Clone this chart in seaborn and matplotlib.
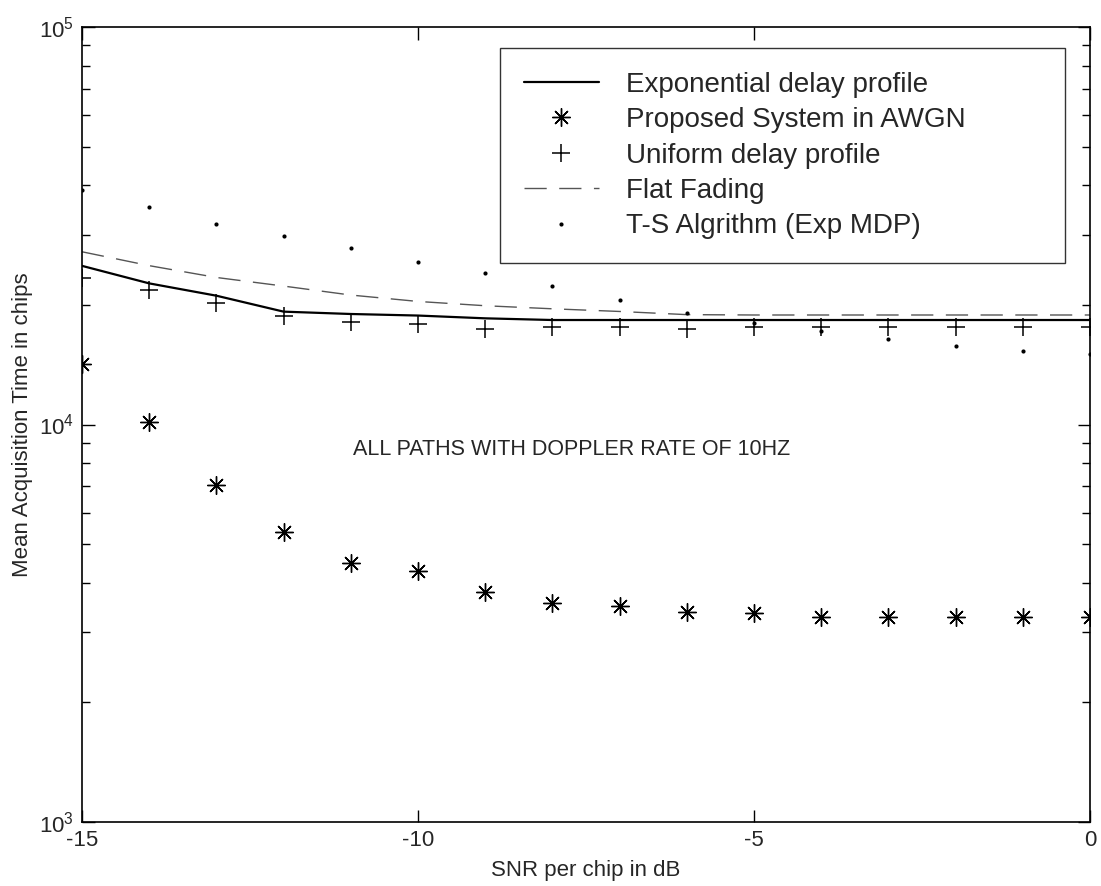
import numpy as np
import pandas as pd
import seaborn as sns
import matplotlib
matplotlib.use("Agg")
import matplotlib.pyplot as plt
from matplotlib.ticker import LogLocator, NullFormatter

# values (mean acquisition time in chips)
snr_db = [-15, -14, -13, -12, -11, -10, -9, -8, -7, -6, -5, -4, -3, -2, -1, 0]
exp_profile = [25070, 22650, 21090, 19230, 18970, 18800, 18500, 18320, 18320, 18320,
               18320, 18320, 18320, 18320, 18320, 18320]
awgn = [14170, 10160, 7050, 5355, 4475, 4290, 3795, 3563, 3495, 3380,
        3350, 3275, 3280, 3275, 3275, 3275]
uniform = [23330, 21790, 20170, 18780, 18080, 17900, 17380, 17560, 17630, 17440,
           17630, 17630, 17630, 17630, 17630, 17630]
flat_fading = [27200, 25100, 23440, 22300, 21170, 20400, 19900, 19550, 19250, 18900,
               18860, 18860, 18860, 18860, 18860, 18860]
ts_exp = [38900, 35300, 31900, 29850, 27850, 25590, 23990, 22300, 20610, 19040,
          18040, 17220, 16380, 15790, 15340, 15040]

labels = ["Exponential delay profile", "Proposed System in AWGN", "Uniform delay profile",
          "Flat Fading", "T-S Algrithm (Exp MDP)"]
note = "ALL PATHS WITH DOPPLER RATE OF 10HZ"

sns.set_style("white")
plt.rcParams['font.family'] = ['Liberation Sans', 'DejaVu Sans']
plt.rcParams['mathtext.fontset'] = 'custom'
plt.rcParams['mathtext.rm'] = 'Liberation Sans'
plt.rcParams['axes.unicode_minus'] = False

fig = plt.figure(figsize=(11.01, 8.86), dpi=100)
ax = fig.add_axes([0.0745, 0.0722, 0.9155, 0.8973])

sns.lineplot(x=snr_db, y=exp_profile, ax=ax, color='black', lw=1.6, label=labels[0])
sns.lineplot(x=snr_db, y=awgn, ax=ax, color='black', linestyle='', marker=(8, 2, 0),
             markersize=13, markeredgewidth=1.0, markeredgecolor='black', label=labels[1])
sns.lineplot(x=snr_db, y=uniform, ax=ax, color='black', linestyle='', marker='+',
             markersize=13, markeredgewidth=1.1, markeredgecolor='black', label=labels[2])
sns.lineplot(x=snr_db, y=flat_fading, ax=ax, color='#555555', lw=1.0, dashes=(16, 9),
             label=labels[3])
sns.lineplot(x=snr_db, y=ts_exp, ax=ax, color='black', linestyle='', marker='o',
             markersize=3, markeredgewidth=0, label=labels[4])

ax.set_yscale('log')
ax.set_xlim(-15, 0)
ax.set_ylim(1e3, 1e5)
ax.set_xticks([-15, -10, -5, 0])
ax.yaxis.set_minor_locator(LogLocator(base=10, subs=np.arange(2, 10)))
ax.yaxis.set_minor_formatter(NullFormatter())
ax.tick_params(which='both', direction='in', top=True, right=True, bottom=True, left=True,
               labelsize=16, color='black', width=1.0)
ax.tick_params(which='major', length=9, pad=6)
ax.tick_params(which='minor', length=6)
for s in ax.spines.values():
    s.set_color('black')
    s.set_linewidth(1.2)

ax.set_xlabel("SNR per chip in dB", fontsize=16, labelpad=6)
ax.set_ylabel("Mean Acquisition Time in chips", fontsize=16, labelpad=4)
ax.text(-10.97, 8630, note, fontsize=15.5, va='center', ha='left')

leg = ax.legend(loc='upper left', bbox_to_anchor=(0.4147, 0.7006, 0.5605, 0.2730),
                mode='expand', fontsize=20, frameon=True, fancybox=False,
                edgecolor='black', handlelength=2.7, handletextpad=1.0,
                labelspacing=0.34, borderpad=0.85, borderaxespad=0)
leg.get_frame().set_linewidth(1.0)

fig.savefig("out.png", dpi=100)
